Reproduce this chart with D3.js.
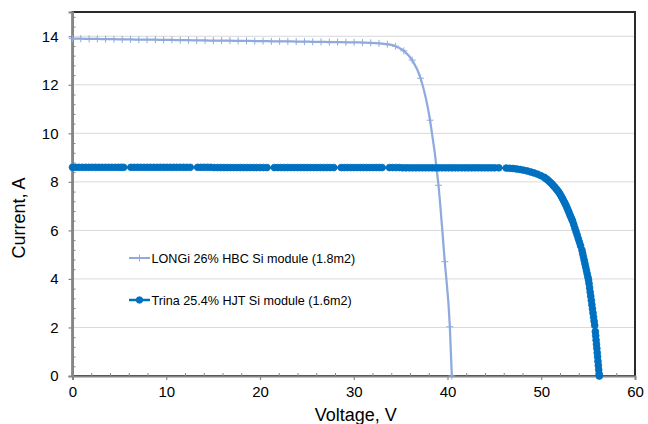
<!DOCTYPE html>
<html>
<head>
<meta charset="utf-8">
<script src="https://cdn.jsdelivr.net/npm/d3@7"></script>
<style>
  html, body { margin: 0; padding: 0; background: #fff; }
  svg { display: block; font-family: "Liberation Sans", Arial, sans-serif; }
</style>
</head>
<body>
<svg id="chart" width="648" height="424"></svg>
<script>
// Module I–V curves: [voltage (V), current (A)]
const longiIV = [
  [0,13.9],[0.88,13.9],[1.77,13.89],[2.65,13.89],[3.53,13.88],[4.42,13.88],[5.3,13.87],[6.19,13.87],
  [7.07,13.86],[7.95,13.86],[8.84,13.86],[9.72,13.85],[10.6,13.85],[11.49,13.84],[12.37,13.84],[13.25,13.83],
  [14.14,13.83],[15.02,13.82],[15.9,13.82],[16.79,13.82],[17.67,13.81],[18.56,13.81],[19.44,13.8],[20.32,13.8],
  [21.21,13.79],[22.09,13.79],[22.97,13.79],[23.86,13.78],[24.74,13.78],[25.62,13.77],[26.51,13.77],[27.39,13.76],
  [28.28,13.76],[29.16,13.75],[30.04,13.75],[30.93,13.74],[31.81,13.73],[32.69,13.71],[33.58,13.67],[34.46,13.59],
  [35.34,13.4],[36.23,13.02],[37.13,12.27],[38.14,10.54],[39.04,7.86],[39.71,4.71],[40.25,2.03],[40.46,0]
];

const trinaIV = [
  [0,8.6],[0.35,8.6],[0.7,8.6],[1.05,8.6],[1.4,8.6],[1.75,8.6],[2.1,8.6],[2.45,8.6],[2.8,8.6],[3.15,8.6],
  [3.5,8.6],[3.85,8.6],[4.2,8.6],[4.55,8.6],[4.9,8.6],[5.2,8.6],[5.45,8.6],
  [6.23,8.6],[6.58,8.6],[6.93,8.6],[7.28,8.6],[7.63,8.6],[7.98,8.6],[8.33,8.6],[8.68,8.6],[9.03,8.6],
  [9.38,8.6],[9.73,8.6],[10.08,8.6],[10.43,8.6],[10.78,8.6],[11.13,8.6],[11.48,8.6],[11.83,8.6],[12.18,8.6],[12.55,8.6],
  [13.35,8.6],[13.7,8.6],[14.05,8.6],[14.4,8.6],[14.75,8.6],[15.1,8.59],[15.45,8.59],[15.8,8.59],[16.15,8.59],
  [16.5,8.59],[16.85,8.59],[17.2,8.59],[17.55,8.59],[17.9,8.59],[18.25,8.59],[18.6,8.59],[18.95,8.59],[19.3,8.59],
  [19.65,8.59],[20.0,8.59],[20.35,8.59],[20.74,8.59],
  [21.54,8.59],[21.89,8.59],[22.24,8.59],[22.59,8.59],[22.94,8.59],[23.29,8.59],[23.64,8.59],[23.99,8.59],
  [24.34,8.59],[24.69,8.59],[25.04,8.59],[25.39,8.59],[25.74,8.59],[26.09,8.59],[26.44,8.59],[26.79,8.59],
  [27.14,8.59],[27.49,8.59],[27.86,8.59],
  [28.66,8.59],[29.0,8.59],[29.34,8.59],[29.68,8.59],[30.02,8.59],[30.36,8.59],[30.7,8.59],[31.04,8.59],
  [31.38,8.59],[31.72,8.59],[32.06,8.59],[32.4,8.59],[32.74,8.59],[33.02,8.59],
  [33.82,8.59],[34.17,8.59],[34.52,8.59],[34.87,8.59],[35.22,8.58],[35.57,8.58],[35.92,8.58],[36.27,8.58],
  [36.62,8.58],[36.97,8.58],[37.32,8.58],[37.67,8.58],[38.02,8.58],[38.37,8.58],[38.72,8.58],[39.07,8.58],
  [39.42,8.58],[39.77,8.58],[40.12,8.58],[40.47,8.58],[40.82,8.58],[41.17,8.58],[41.52,8.58],[41.87,8.58],
  [42.22,8.58],[42.57,8.58],[42.92,8.58],[43.27,8.58],[43.62,8.58],[43.97,8.58],[44.32,8.58],[44.67,8.58],
  [45.02,8.58],[45.47,8.58],
  [46.27,8.57],[46.64,8.56],[47.01,8.55],[47.38,8.53],[47.75,8.51],[48.12,8.48],[48.49,8.45],[48.86,8.41],
  [49.22,8.37],[49.58,8.32],[49.94,8.26],[50.3,8.19],[50.47,8.14],[50.65,8.09],[50.82,8.03],[50.99,7.97],
  [51.15,7.91],[51.3,7.84],[51.45,7.78],[51.6,7.71],[51.74,7.64],[51.88,7.57],[52.01,7.49],[52.14,7.4],
  [52.27,7.31],[52.39,7.22],[52.51,7.13],[52.63,7.04],[52.74,6.94],[52.85,6.84],[52.95,6.75],[53.05,6.65],
  [53.15,6.56],[53.25,6.47],[53.35,6.38],[53.47,6.24],[53.59,6.09],[53.71,5.95],[53.83,5.81],[53.95,5.66],
  [54.07,5.52],[54.19,5.37],[54.34,5.19],[54.42,5.05],[54.5,4.91],[54.58,4.77],[54.66,4.63],[54.74,4.49],
  [54.82,4.35],[54.9,4.21],[54.98,4.07],[55.05,3.95],[55.1,3.81],[55.16,3.63],[55.22,3.46],[55.28,3.29],
  [55.34,3.12],[55.4,2.94],[55.46,2.77],[55.52,2.6],[55.58,2.43],[55.64,2.26],[55.7,2.09],[55.77,1.83],
  [55.81,1.66],[55.85,1.48],[55.89,1.31],[55.93,1.14],[55.97,0.96],[56.01,0.79],[56.05,0.61],[56.09,0.44],
  [56.13,0.26],[56.17,0.09],[56.19,0]
];

const seriesNames = ["LONGi 26% HBC Si module (1.8m2)", "Trina 25.4% HJT Si module (1.6m2)"];
const xTicks = [0, 10, 20, 30, 40, 50, 60];
const yTicks = [0, 2, 4, 6, 8, 10, 12, 14];
const xTitle = "Voltage, V";
const yTitle = "Current, A";

const longiColor = "#8FAADC";
const trinaColor = "#0070C0";
const axisGray = "#868686";

const svg = d3.select("#chart");
const plotLeft = 72.5, plotRight = 635, plotTop = 12, plotBottom = 376;

const x = d3.scaleLinear().domain([0, 60]).range([plotLeft, plotRight]);
const y = d3.scaleLinear().domain([0, 15]).range([plotBottom, plotTop]);

// horizontal gridlines
svg.append("g").selectAll("line").data(yTicks.filter(d => d > 0)).join("line")
  .attr("x1", plotLeft).attr("x2", plotRight)
  .attr("y1", d => y(d)).attr("y2", d => y(d))
  .attr("stroke", "#d9d9d9").attr("stroke-width", 1);

// plot-area frame
svg.append("rect")
  .attr("x", plotLeft).attr("y", plotTop)
  .attr("width", plotRight - plotLeft).attr("height", plotBottom - plotTop)
  .attr("fill", "none").attr("stroke", "#2a2a2a").attr("stroke-width", 2);

// x axis: outward major ticks, inward minor ticks every 2 V
const xAxis = d3.axisBottom(x).tickValues(xTicks).tickSize(4).tickPadding(6).tickFormat(d3.format("d"));
const gx = svg.append("g").attr("transform", `translate(0,${plotBottom})`).call(xAxis);
gx.select(".domain").attr("stroke", axisGray).attr("stroke-width", 2);
gx.selectAll(".tick line").attr("stroke", axisGray).attr("stroke-width", 1.2);
gx.selectAll(".tick text").attr("font-size", "15px").attr("fill", "#000")
  .attr("font-family", "'Liberation Sans', Arial, sans-serif");
const xMinor = d3.axisBottom(x).tickValues(d3.range(0, 61, 2).filter(v => v % 10 !== 0)).tickSize(-3).tickFormat("");
const gxm = svg.append("g").attr("transform", `translate(0,${plotBottom})`).call(xMinor);
gxm.select(".domain").remove();
gxm.selectAll(".tick line").attr("stroke", axisGray).attr("stroke-width", 1);

// y axis: outward major ticks, inward minor ticks every 0.4 A
const yAxis = d3.axisLeft(y).tickValues(yTicks).tickSize(4).tickPadding(10).tickFormat(d3.format("d"));
const gy = svg.append("g").attr("transform", `translate(${plotLeft},0)`).call(yAxis);
gy.select(".domain").attr("stroke", axisGray).attr("stroke-width", 2);
gy.selectAll(".tick line").attr("stroke", axisGray).attr("stroke-width", 1.2);
gy.selectAll(".tick text").attr("font-size", "15px").attr("fill", "#000")
  .attr("font-family", "'Liberation Sans', Arial, sans-serif");
const yMinorVals = d3.range(0, 38).map(i => +(i * 0.4).toFixed(1))
  .filter(v => v < 15 && Math.abs(v / 2 - Math.round(v / 2)) > 1e-6);
const yMinor = d3.axisLeft(y).tickValues(yMinorVals).tickSize(-3).tickFormat("");
const gym = svg.append("g").attr("transform", `translate(${plotLeft},0)`).call(yMinor);
gym.select(".domain").remove();
gym.selectAll(".tick line").attr("stroke", axisGray).attr("stroke-width", 1);

// axis titles
svg.append("text").attr("x", (plotLeft + plotRight) / 2 + 2).attr("y", 421)
  .attr("text-anchor", "middle").attr("font-size", "18px").text(xTitle);
svg.append("text").attr("transform", "translate(25,218) rotate(-90)")
  .attr("text-anchor", "middle").attr("font-size", "18px").text(yTitle);

const plot = svg.append("g");

function plusPath(cx, cy, s) {
  return `M${cx - s},${cy}H${cx + s}M${cx},${cy - s}V${cy + s}`;
}

// LONGi curve with "+" markers
const smooth = d3.line().x(d => x(d[0])).y(d => y(d[1])).curve(d3.curveMonotoneX);
plot.append("path").datum(longiIV).attr("d", smooth)
  .attr("fill", "none").attr("stroke", longiColor).attr("stroke-width", 2.25);
plot.append("g").selectAll("path").data(longiIV).join("path")
  .attr("d", d => plusPath(x(d[0]), y(d[1]), 3.5))
  .attr("stroke", longiColor).attr("stroke-width", 1).attr("fill", "none");

// Trina curve: connecting line plus dense round markers
const straight = d3.line().x(d => x(d[0])).y(d => y(d[1]));
plot.append("path").datum(trinaIV).attr("d", straight)
  .attr("fill", "none").attr("stroke", trinaColor).attr("stroke-width", 2.25);
plot.append("g").selectAll("circle").data(trinaIV).join("circle")
  .attr("cx", d => x(d[0])).attr("cy", d => y(d[1])).attr("r", 3.4)
  .attr("fill", trinaColor).attr("stroke", trinaColor).attr("stroke-width", 0.8);

// legend
const legend = svg.append("g");
const legRows = [
  { name: seriesNames[0], color: longiColor, marker: "plus", y: 258 },
  { name: seriesNames[1], color: trinaColor, marker: "circle", y: 300 }
];
legRows.forEach(r => {
  legend.append("line").attr("x1", 129).attr("x2", 150).attr("y1", r.y).attr("y2", r.y)
    .attr("stroke", r.color).attr("stroke-width", r.marker === "plus" ? 2 : 2.5);
  if (r.marker === "plus") {
    legend.append("path").attr("d", plusPath(139.5, r.y, 3.5))
      .attr("stroke", r.color).attr("stroke-width", 1).attr("fill", "none");
  } else {
    legend.append("circle").attr("cx", 139.5).attr("cy", r.y).attr("r", 3.3)
      .attr("fill", r.color).attr("stroke", r.color).attr("stroke-width", 0.8);
  }
  legend.append("text").attr("x", 151.5).attr("y", r.y + 4.5)
    .attr("font-size", "12.6px").attr("fill", "#000").text(r.name);
});
</script>
</body>
</html>
